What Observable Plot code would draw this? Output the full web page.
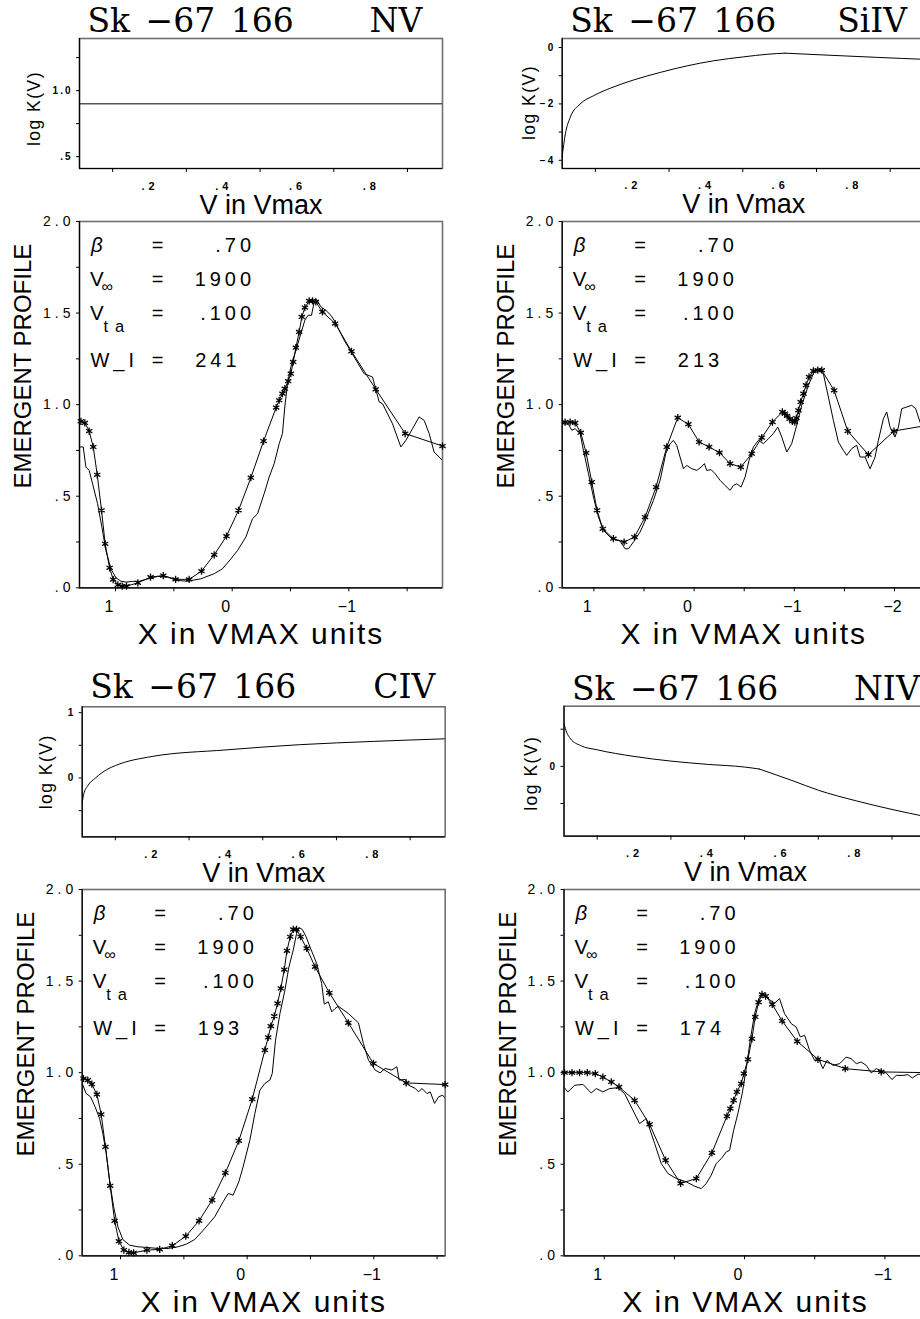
<!DOCTYPE html>
<html><head><meta charset="utf-8">
<script src="https://cdn.jsdelivr.net/npm/d3@7"></script>
<script src="https://cdn.jsdelivr.net/npm/@observablehq/plot@0.6"></script>
<style>
html,body{margin:0;padding:0;background:#fff;width:920px;height:1319px;overflow:hidden;}
body{position:relative;}
.p{position:absolute;}
g[font-size="10"]{letter-spacing:2px;}
g[font-size="11"]{letter-spacing:4px;}
g[font-size="14"]{letter-spacing:4px;}
g[font-size="20"]{letter-spacing:4px;}
g[font-size="16.5"]{letter-spacing:7px;}
g[font-size="17.5"]{letter-spacing:1.5px;}
g[font-size="30"]{letter-spacing:2px;}
g[font-size="33"]{word-spacing:5px;}
</style></head><body>
<script>
// ---------------- data ----------------
const star = "Sk \u221267 166";
const ions = ["NV", "SiIV", "CIV", "NIV"];
const betaTxt = ".70", vinfTxt = "1900", vtaTxt = ".100";
const wValues = ["241", "213", "193", "174"];

// velocity axis of the small log K(V) panels
const vDomain = [0.01, 0.995];
const vTicks = [0.1, 0.3, 0.5, 0.7, 0.9];
const vLabels = [0.2, 0.4, 0.6, 0.8];

// log K(V) curves  [V/Vmax, log K]
const nvK = [[0.01, 0.9], [0.995, 0.9]];
const siivK = [[0.0095,-3.9],[0.0186,-3.06],[0.032,-2.47],[0.059,-2.0],[0.095,-1.71],[0.141,-1.44],[0.204,-1.15],[0.277,-0.88],[0.349,-0.65],[0.421,-0.47],[0.503,-0.33],[0.566,-0.24],[0.615,-0.2],[0.729,-0.27],[0.865,-0.35],[0.995,-0.42]];
const siivKink = 0.615;
const civK = [[0.0094,-0.4],[0.014,-0.25],[0.025,-0.12],[0.046,0],[0.077,0.13],[0.1,0.19],[0.2,0.33],[0.4,0.43],[0.6,0.51],[0.8,0.56],[0.995,0.6]];
const nivK = [[0.0099,0.571],[0.017,0.46],[0.028,0.37],[0.055,0.28],[0.1,0.223],[0.2,0.134],[0.3,0.071],[0.4,0.027],[0.5,-0.009],[0.54,-0.036],[0.632,-0.196],[0.7,-0.321],[0.803,-0.464],[0.9,-0.58],[0.995,-0.68]];
const nivKink = 0.54;

// emergent profiles  [X in Vmax units, flux]
const nvModel = [[1.31,0.91],[1.297,0.909],[1.263,0.900],[1.226,0.856],[1.191,0.769],[1.157,0.617],[1.120,0.423],[1.089,0.240],[1.051,0.109],[1.020,0.045],[0.980,0.016],[0.943,0.009],[0.906,0.009],[0.809,0.027],[0.700,0.058],[0.591,0.067],[0.485,0.046],[0.369,0.046],[0.263,0.091],[0.154,0.180],[0.049,0.282],[-0.054,0.423],[-0.160,0.601],[-0.269,0.801],[-0.377,0.984],[-0.403,1.024],[-0.431,1.060],[-0.451,1.087],[-0.480,1.128],[-0.503,1.169],[-0.523,1.233],[-0.546,1.311],[-0.574,1.397],[-0.597,1.479],[-0.623,1.530],[-0.660,1.566],[-0.689,1.566],[-0.717,1.561],[-0.774,1.506],[-0.883,1.443],[-1.023,1.291],[-1.231,1.084],[-1.483,0.842],[-1.803,0.774]];
const nvObs = [[1.31,0.769],[1.277,0.769],[1.254,0.659],[1.226,0.641],[1.197,0.568],[1.154,0.459],[1.117,0.332],[1.083,0.204],[1.04,0.104],[0.997,0.055],[0.954,0.036],[0.911,0.031],[0.854,0.035],[0.797,0.035],[0.726,0.049],[0.64,0.062],[0.554,0.058],[0.469,0.04],[0.383,0.036],[0.269,0.049],[0.154,0.077],[0.083,0.104],[0.011,0.158],[-0.046,0.204],[-0.117,0.277],[-0.174,0.377],[-0.217,0.404],[-0.274,0.514],[-0.317,0.605],[-0.36,0.678],[-0.403,0.787],[-0.431,0.842],[-0.451,0.987],[-0.474,1.115],[-0.503,1.206],[-0.546,1.297],[-0.589,1.388],[-0.623,1.461],[-0.651,1.488],[-0.68,1.488],[-0.703,1.561],[-0.726,1.574],[-0.76,1.534],[-0.803,1.515],[-0.846,1.488],[-0.874,1.461],[-0.96,1.352],[-1.046,1.26],[-1.131,1.169],[-1.203,1.151],[-1.26,1.015],[-1.289,1.005],[-1.374,0.896],[-1.446,0.769],[-1.489,0.805],[-1.546,0.869],[-1.603,0.933],[-1.646,0.914],[-1.689,0.842],[-1.731,0.741],[-1.803,0.696]];

const siivModel = [[1.316,0.905],[1.287,0.905],[1.237,0.905],[1.187,0.90],[1.131,0.847],[1.077,0.736],[1.021,0.577],[0.968,0.423],[0.911,0.322],[0.805,0.268],[0.698,0.25],[0.595,0.277],[0.489,0.386],[0.379,0.55],[0.273,0.769],[0.163,0.929],[0.057,0.893],[-0.05,0.796],[-0.15,0.769],[-0.253,0.738],[-0.359,0.678],[-0.466,0.659],[-0.575,0.732],[-0.675,0.82],[-0.782,0.905],[-0.881,0.96],[-0.905,0.951],[-0.928,0.938],[-0.955,0.922],[-0.981,0.909],[-1.005,0.905],[-1.021,0.927],[-1.041,0.969],[-1.064,1.015],[-1.091,1.06],[-1.117,1.106],[-1.147,1.151],[-1.19,1.184],[-1.234,1.188],[-1.274,1.188],[-1.397,1.078],[-1.533,0.856],[-1.739,0.727],[-1.995,0.856],[-2.306,0.885]];
const siivObs = [[1.316,0.896],[1.254,0.893],[1.22,0.86],[1.187,0.869],[1.137,0.842],[1.104,0.75],[1.054,0.623],[1.004,0.495],[0.954,0.386],[0.905,0.313],[0.821,0.268],[0.738,0.255],[0.688,0.213],[0.655,0.213],[0.605,0.25],[0.539,0.304],[0.472,0.386],[0.406,0.477],[0.339,0.587],[0.283,0.732],[0.239,0.787],[0.206,0.805],[0.173,0.778],[0.14,0.714],[0.106,0.65],[0.073,0.668],[0.023,0.65],[-0.027,0.641],[-0.07,0.659],[-0.103,0.678],[-0.126,0.641],[-0.17,0.645],[-0.21,0.623],[-0.259,0.587],[-0.309,0.559],[-0.359,0.532],[-0.392,0.559],[-0.426,0.568],[-0.469,0.55],[-0.509,0.605],[-0.549,0.696],[-0.592,0.769],[-0.642,0.805],[-0.692,0.787],[-0.742,0.814],[-0.791,0.842],[-0.835,0.878],[-0.875,0.823],[-0.925,0.741],[-0.974,0.787],[-1.024,0.887],[-1.074,0.996],[-1.141,1.106],[-1.19,1.169],[-1.234,1.191],[-1.29,1.169],[-1.34,1.042],[-1.39,0.914],[-1.44,0.796],[-1.49,0.75],[-1.523,0.723],[-1.573,0.76],[-1.623,0.778],[-1.656,0.714],[-1.706,0.714],[-1.756,0.65],[-1.806,0.714],[-1.839,0.805],[-1.889,0.923],[-1.922,0.96],[-1.955,0.878],[-2.005,0.823],[-2.039,0.878],[-2.072,0.978],[-2.122,0.987],[-2.172,0.996],[-2.211,0.978],[-2.271,0.878],[-2.306,0.88]];

const civModel = [[1.303,0.97],[1.293,0.968],[1.259,0.959],[1.227,0.937],[1.187,0.881],[1.153,0.772],[1.119,0.595],[1.082,0.382],[1.047,0.191],[1.013,0.08],[0.974,0.031],[0.934,0.018],[0.897,0.016],[0.792,0.031],[0.691,0.035],[0.591,0.055],[0.485,0.107],[0.38,0.191],[0.277,0.304],[0.172,0.453],[0.066,0.628],[-0.04,0.855],[-0.14,1.123],[-0.166,1.192],[-0.187,1.254],[-0.214,1.308],[-0.24,1.378],[-0.266,1.46],[-0.293,1.563],[-0.314,1.665],[-0.34,1.742],[-0.364,1.782],[-0.39,1.782],[-0.422,1.742],[-0.47,1.678],[-0.536,1.578],[-0.649,1.436],[-0.799,1.272],[-0.997,1.05],[-1.256,0.944],[-1.564,0.935]];
const civObs = [[1.303,0.941],[1.272,0.886],[1.237,0.868],[1.201,0.813],[1.166,0.75],[1.14,0.668],[1.113,0.559],[1.087,0.413],[1.055,0.268],[1.021,0.158],[0.982,0.089],[0.929,0.058],[0.863,0.049],[0.784,0.045],[0.704,0.04],[0.625,0.04],[0.546,0.049],[0.48,0.064],[0.414,0.089],[0.335,0.149],[0.256,0.213],[0.19,0.295],[0.15,0.34],[0.111,0.331],[0.066,0.404],[0.032,0.486],[-0.021,0.631],[-0.061,0.777],[-0.1,0.904],[-0.14,0.941],[-0.179,0.959],[-0.198,0.995],[-0.224,1.177],[-0.259,1.323],[-0.298,1.45],[-0.33,1.578],[-0.364,1.669],[-0.39,1.76],[-0.412,1.791],[-0.435,1.782],[-0.462,1.747],[-0.496,1.687],[-0.549,1.596],[-0.588,1.487],[-0.609,1.374],[-0.641,1.387],[-0.668,1.332],[-0.694,1.35],[-0.72,1.363],[-0.799,1.323],[-0.879,1.272],[-0.918,1.159],[-0.958,1.068],[-1.011,1.014],[-1.05,0.999],[-1.09,1.023],[-1.142,1.014],[-1.182,1.032],[-1.201,0.959],[-1.248,0.963],[-1.274,0.932],[-1.327,0.914],[-1.354,0.895],[-1.38,0.914],[-1.42,0.886],[-1.446,0.895],[-1.48,0.832],[-1.512,0.868],[-1.544,0.877],[-1.564,0.859]];

const nivModel = [[1.287,1.0],[1.283,1.0],[1.23,1.0],[1.176,1.0],[1.121,1.0],[1.064,0.995],[1.01,0.976],[0.95,0.949],[0.895,0.922],[0.784,0.849],[0.677,0.718],[0.563,0.522],[0.456,0.395],[0.344,0.422],[0.233,0.562],[0.126,0.762],[0.102,0.804],[0.078,0.849],[0.055,0.895],[0.024,0.94],[0.005,0.995],[-0.024,1.073],[-0.052,1.185],[-0.076,1.304],[-0.1,1.385],[-0.124,1.427],[-0.15,1.418],[-0.197,1.373],[-0.268,1.282],[-0.375,1.171],[-0.523,1.073],[-0.717,1.022],[-0.974,1.004],[-1.30,1.0]];
const nivObs = [[1.29,0.922],[1.259,0.895],[1.211,0.931],[1.152,0.936],[1.093,0.889],[1.057,0.913],[1.01,0.895],[0.962,0.913],[0.903,0.918],[0.855,0.885],[0.796,0.795],[0.748,0.722],[0.701,0.749],[0.641,0.613],[0.594,0.504],[0.546,0.449],[0.487,0.422],[0.416,0.404],[0.356,0.38],[0.309,0.367],[0.273,0.395],[0.238,0.44],[0.202,0.504],[0.166,0.531],[0.131,0.567],[0.107,0.576],[0.078,0.685],[0.048,0.776],[0.017,0.885],[-0.012,1.022],[-0.04,1.176],[-0.071,1.322],[-0.102,1.404],[-0.126,1.431],[-0.15,1.422],[-0.178,1.398],[-0.214,1.38],[-0.249,1.404],[-0.285,1.322],[-0.333,1.267],[-0.368,1.249],[-0.397,1.195],[-0.428,1.204],[-0.463,1.122],[-0.499,1.067],[-0.53,1.071],[-0.558,1.022],[-0.587,1.067],[-0.629,1.04],[-0.677,1.049],[-0.724,1.085],[-0.76,1.076],[-0.796,1.049],[-0.831,1.058],[-0.867,1.04],[-0.903,0.998],[-0.938,1.022],[-0.967,1.013],[-1.01,0.998],[-1.05,0.962],[-1.081,0.985],[-1.128,0.985],[-1.164,0.989],[-1.195,0.971],[-1.235,0.991],[-1.30,0.99]];

// profile axis ticks
const fluxDomain = [0, 2];
const fluxTicks = [0, 0.25, 0.5, 0.75, 1, 1.25, 1.5, 1.75, 2];
const fluxLabels = [0, 0.5, 1, 1.5, 2];

// ---------------- helpers ----------------
const SANS = "'Liberation Sans', Arial, sans-serif";
const SERIF = "'DejaVu Serif', serif";
const fmtDec = d => { let s = d.toFixed(1); if (s.startsWith("0.")) s = s.slice(1); return s; };
const fmtV = d => d.toFixed(1).slice(1);
const fmtInt = d => d < 0 ? "\u2212" + Math.abs(d) : String(d);
const X = d => d[0], Y = d => d[1];
const FW = 363;

function place(svg, left, top) {
  const div = document.createElement("div");
  div.className = "p";
  div.style.left = left + "px";
  div.style.top = top + "px";
  div.appendChild(svg);
  document.body.appendChild(div);
}
function segments(data, kink) {
  return kink == null ? [data] : [data.filter(d => d[0] <= kink), data.filter(d => d[0] >= kink)];
}
function label(t, o) { return Plot.text([t], {text: d => d, ...o}); }

function smallPlot(p) {
  const mL = p.frameLeft - p.svgLeft, mT = p.smallTop - p.smallSvgTop, mR = 10, mB = 52, H = 130;
  const svg = Plot.plot({
    width: mL + FW + mR, height: mT + H + mB,
    marginLeft: mL, marginTop: mT, marginRight: mR, marginBottom: mB,
    x: {domain: vDomain, axis: null}, y: {domain: p.kDomain, axis: null},
    style: {background: "transparent", maxWidth: "none", fontFamily: SANS, overflow: "visible", color: "black"},
    marks: [
      Plot.frame({stroke: "#707070", strokeWidth: 1.6}),
      Plot.ruleX([vDomain[0]], {stroke: "black", strokeWidth: 1.2}),
      Plot.ruleY([p.kDomain[0]], {stroke: "black", strokeWidth: 1.2}),
      Plot.axisX({ticks: vTicks, tickSize: 4, tickFormat: () => ""}),
      Plot.axisY({ticks: p.kTicks, tickSize: 3, tickFormat: () => ""}),
      Plot.text(vLabels, {x: d => d, text: fmtV, frameAnchor: "bottom", dy: 21, dx: -8, textAnchor: "start", lineAnchor: "bottom", fontSize: 11, fontWeight: "bold"}),
      Plot.text(p.kLabels, {y: d => d, text: p.kFmt, frameAnchor: "left", dx: -7, textAnchor: "end", fontSize: 10, fontWeight: "bold"}),
      ...segments(p.k, p.kink).map(s => Plot.line(s, {x: X, y: Y, curve: "monotone-x", stroke: "black", strokeWidth: 1, clip: true})),
      label("V in Vmax", {frameAnchor: "bottom", dy: 45, textAnchor: "middle", lineAnchor: "bottom", fontSize: 27}),
      label("log K(V)", {frameAnchor: "left", rotate: -90, dx: p.kdx, dy: p.kdy, textAnchor: "middle", lineAnchor: "bottom", fontSize: 17.5}),
      label(star, {frameAnchor: "top-left", dx: 8, dy: p.titleDy, textAnchor: "start", lineAnchor: "bottom", fontFamily: SERIF, fontSize: 33}),
      label(p.ion, {frameAnchor: "top-left", dx: p.ionDx, dy: p.titleDy, textAnchor: "start", lineAnchor: "bottom", fontFamily: SERIF, fontSize: 33})
    ]
  });
  place(svg, p.svgLeft, p.smallSvgTop);
}

function largePlot(p) {
  const mL = p.frameLeft - p.svgLeft, mT = 31, mR = 10, mB = 70, H = 366.3;
  const leg = {frameAnchor: "top-left", lineAnchor: "bottom"};
  const svg = Plot.plot({
    width: mL + FW + mR, height: mT + H + mB,
    marginLeft: mL, marginTop: mT, marginRight: mR, marginBottom: mB,
    x: {domain: p.xDomain, axis: null}, y: {domain: fluxDomain, axis: null},
    style: {background: "transparent", maxWidth: "none", fontFamily: SANS, overflow: "visible", color: "black"},
    marks: [
      Plot.frame({stroke: "#707070", strokeWidth: 1.6}),
      Plot.ruleX([p.xDomain[0]], {stroke: "black", strokeWidth: 1.2}),
      Plot.ruleY([fluxDomain[0]], {stroke: "black", strokeWidth: 1.2}),
      Plot.axisX({ticks: p.xTicks, tickSize: 4, tickFormat: () => ""}),
      Plot.axisY({ticks: fluxTicks, tickSize: 3, tickFormat: () => ""}),
      Plot.text(p.xLabels, {x: d => d, text: fmtInt, frameAnchor: "bottom", dy: 24.5, dx: -11, textAnchor: "start", lineAnchor: "bottom", fontSize: 16}),
      Plot.text(fluxLabels, {y: d => d, text: fmtDec, frameAnchor: "left", dx: -5, textAnchor: "end", fontSize: 14}),
      Plot.line(p.obs, {x: X, y: Y, stroke: "black", strokeWidth: 1, clip: true}),
      Plot.line(p.model, {x: X, y: Y, stroke: "black", strokeWidth: 1, clip: true}),
      Plot.dot(p.model.slice(1, p.model.length - 1).concat(p.endStar ? [p.model[p.model.length - 1]] : []), {x: X, y: Y, symbol: "asterisk", r: 3.4, stroke: "black", strokeWidth: 1.3}),
      label("X in VMAX units", {frameAnchor: "bottom", dy: 56.5, textAnchor: "middle", lineAnchor: "bottom", fontSize: 30}),
      label("EMERGENT PROFILE", {frameAnchor: "left", rotate: -90, dx: -48.5, dy: -38.5, textAnchor: "middle", lineAnchor: "bottom", fontSize: 24}),
      // parameter block
      label("\u03b2", {...leg, dx: 11.5, dy: 30.5, textAnchor: "start", fontSize: 20.5, fontStyle: "italic"}),
      label("V", {...leg, dx: 10.5, dy: 65, textAnchor: "start", fontSize: 20.5}),
      label("\u221e", {...leg, dx: 22, dy: 71, textAnchor: "start", fontSize: 16}),
      label("V", {...leg, dx: 10.5, dy: 99, textAnchor: "start", fontSize: 20.5}),
      label("ta", {...leg, dx: 24, dy: 110.5, textAnchor: "start", fontSize: 16.5}),
      label("W_I", {...leg, dx: 11, dy: 145.5, textAnchor: "start", fontSize: 20}),
      ...[30.5, 65, 99, 145.5].map(y => label("=", {...leg, dx: 80, dy: y, textAnchor: "middle", fontSize: 20})),
      label(betaTxt, {...leg, dx: 175.6, dy: 30.5, textAnchor: "end", fontSize: 20}),
      label(vinfTxt, {...leg, dx: 175.6, dy: 65, textAnchor: "end", fontSize: 20}),
      label(vtaTxt, {...leg, dx: 175.6, dy: 99, textAnchor: "end", fontSize: 20}),
      label(p.w, {...leg, dx: 161, dy: 145.5, textAnchor: "end", fontSize: 20})
    ]
  });
  place(svg, p.svgLeft, p.largeSvgTop);
}

const panels = [
  {ion: ions[0], w: wValues[0], frameLeft: 79, svgLeft: 0, smallTop: 38, smallSvgTop: 0, largeSvgTop: 190, titleDy: -6.5, ionDx: 290,
   k: nvK, kink: null, kDomain: [0.41, 1.395], kTicks: [0.5, 0.75, 1, 1.25], kLabels: [0.5, 1], kFmt: fmtDec, kdx: -39.5, kdy: 5,
   xDomain: [1.309, -1.803], xTicks: [1, 0.5, 0, -0.5, -1, -1.5], xLabels: [1, 0, -1], model: nvModel, obs: nvObs, endStar: true},
  {ion: ions[1], w: wValues[1], frameLeft: 561.7, svgLeft: 470, smallTop: 38, smallSvgTop: 0, largeSvgTop: 190, titleDy: -6.5, ionDx: 275,
   k: siivK, kink: siivKink, kDomain: [-4.29, 0.32], kTicks: [0, -1, -2, -3, -4], kLabels: [0, -2, -4], kFmt: fmtInt, kdx: -27, kdy: -1,
   xDomain: [1.316, -2.306], xTicks: [1, 0.5, 0, -0.5, -1, -1.5, -2], xLabels: [1, 0, -1, -2], model: siivModel, obs: siivObs, endStar: false},
  {ion: ions[2], w: wValues[2], frameLeft: 81.7, svgLeft: 0, smallTop: 706.3, smallSvgTop: 660, largeSvgTop: 858.3, titleDy: -9, ionDx: 291,
   k: civK, kink: null, kDomain: [-0.9, 1.09], kTicks: [-0.5, 0, 0.5, 1], kLabels: [0, 1], kFmt: fmtInt, kdx: -30, kdy: 0,
   xDomain: [1.303, -1.564], xTicks: [1, 0.5, 0, -0.5, -1, -1.5], xLabels: [1, 0, -1], model: civModel, obs: civObs, endStar: true},
  {ion: ions[3], w: wValues[3], frameLeft: 563.5, svgLeft: 470, smallTop: 705.7, smallSvgTop: 660, largeSvgTop: 858.3, titleDy: -6.5, ionDx: 290,
   k: nivK, kink: nivKink, kDomain: [-0.94, 0.81], kTicks: [-0.5, 0, 0.5], kLabels: [0], kFmt: fmtInt, kdx: -27, kdy: 2,
   xDomain: [1.287, -1.30], xTicks: [1, 0.5, 0, -0.5, -1], xLabels: [1, 0, -1], model: nivModel, obs: nivObs, endStar: false}
];
panels.forEach(p => { smallPlot(p); largePlot(p); });
</script>
</body></html>
